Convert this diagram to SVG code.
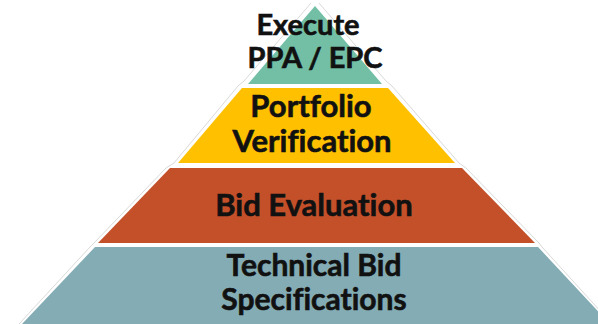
<svg xmlns="http://www.w3.org/2000/svg" width="598" height="324" viewBox="0 0 598 324">
<style>
.t{font-family:Lato,"Open Sans","Liberation Sans",sans-serif;font-weight:bold;font-size:31px;fill:#111;stroke:#111;stroke-width:0.6;text-anchor:middle;font-variant-ligatures:none}
.s{font-size:29px}
.b{font-size:30px}
.edge{fill:none;stroke:#d9d9d9;stroke-width:1}
</style>
<rect width="598" height="324" fill="#fff"/>
<g id="edges">
<polyline class="edge" points="311,3 244,81 238,86 174,163 166,168 94,243 90,247 19,324"/>
<polyline class="edge" points="319,3 386,81 392,86 459,163 466,168 539,243 542,247 612,324"/>
</g>
<g id="execute">
<polygon points="315,6 382,84 248,84" fill="#72bfa5"/>
<text class="t s" x="308" y="35">Execute</text>
<text class="t s" x="315" y="68">PPA / EPC</text>
</g>
<g id="portfolio">
<polygon points="242,88 388,88 455,163 178,163" fill="#ffc000"/>
<text class="t" x="311" y="117">Portfolio</text>
<text class="t" x="312" y="152">Verification</text>
</g>
<g id="bid">
<polygon points="170,168 462,168 535,243 98,243" fill="#c4502a"/>
<text class="t" x="314" y="216">Bid Evaluation</text>
</g>
<g id="technical">
<polygon points="95,247 538,247 610,324 22,324" fill="#84acb5"/>
<text class="t b" x="314" y="276">Technical Bid</text>
<text class="t b" x="314" y="310">Specifications</text>
</g>
</svg>
